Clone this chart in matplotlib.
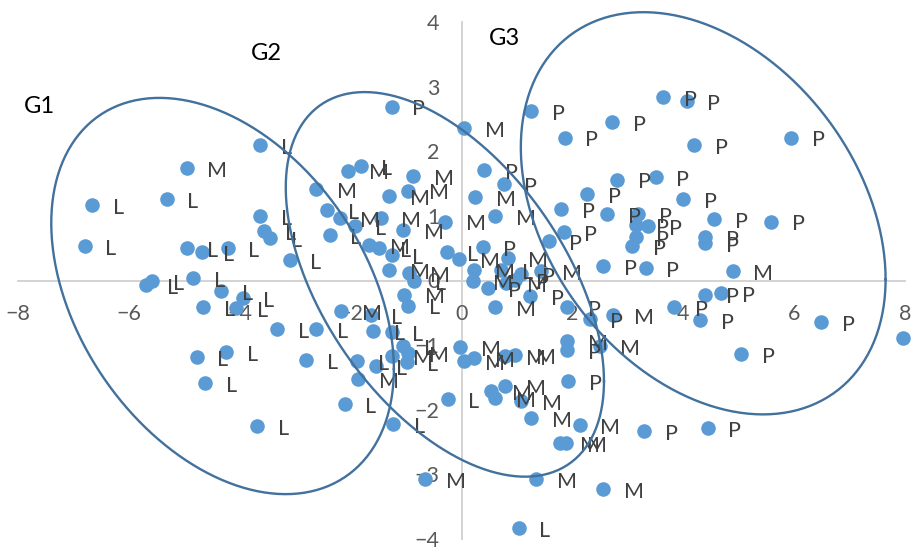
import numpy as np
import matplotlib.pyplot as plt

plt.rcParams['font.family'] = ['Lato', 'DejaVu Sans']

# points labelled L
l_x = [-6.66, -5.32, -6.80, -4.96, -4.68, -4.22, -3.63, -3.63, -3.56, -3.45, -3.10,
       -5.69, -5.58, -4.84, -4.33, -4.66, -3.95, -4.06, -3.32, -2.62, -4.78, -4.24,
       -4.62, -2.80, -3.68, -2.11, -1.82, -2.42, -2.38, -1.93, -1.48, -1.26, -0.85,
       -0.96, -0.27, -1.64, -1.59, -1.26, -1.06, -0.99, -1.88, -1.55, -1.23, -0.25,
       0.72, 1.03]
l_y = [1.17, 1.26, 0.53, 0.50, 0.44, 0.50, 2.10, 1.00, 0.77, 0.66, 0.32,
       -0.07, -0.01, 0.04, -0.16, -0.41, -0.27, -0.43, -0.75, -0.75, -1.18, -1.11,
       -1.59, -1.23, -2.25, -1.91, 1.77, 1.09, 0.70, 0.84, 0.50, 0.39, -0.01,
       -0.39, 0.44, -0.53, -0.78, -0.80, -1.01, -1.26, -1.25, -1.32, -2.22, -1.83,
       0.16, -3.83]

# points labelled M
m_x = [-4.96, 0.05, -2.04, -0.88, -0.97, -1.30, -2.62, -2.20, -1.46, -1.05, -0.29,
       -1.66, -1.30, -0.94, -1.03, -0.05, -2.17, -1.25, -0.96, -1.86, -0.65, -0.02,
       0.05, 0.23, 0.25, 0.60, 0.83, 0.23, 1.44, 0.20, 0.81, 0.60, 2.73, 0.78,
       0.96, 1.90, 2.49, 0.54, 0.60, 0.78, 1.08, 1.26, 2.13, 1.77, 1.88, 1.35,
       2.55, 4.89]
m_y = [1.74, 2.36, 1.70, 1.62, 1.39, 1.31, 1.42, 0.97, 0.97, 0.78, 0.91,
       0.55, 0.16, 0.12, -0.22, 0.33, -0.47, -1.17, -1.12, -1.52, -3.07, -1.03,
       -1.25, -1.20, 1.29, 1.00, 0.35, 0.16, 0.15, -0.01, -0.04, -0.41, -0.53, -1.17,
       -1.15, -0.94, -1.01, -1.71, -1.82, -1.63, -1.87, -2.13, -2.24, -2.52, -2.52, -3.07,
       -3.23, 0.15]

# points labelled P
p_x = [-1.26, 0.40, 0.76, 0.38, 1.08, 0.47, 0.96, 1.23, 1.91, 2.31, 1.90,
       1.93, 3.30, 4.44, 5.05, 6.48, 7.96, 4.39, 4.68, 4.31, 3.84, 1.26,
       1.86, 2.71, 3.63, 4.06, 4.19, 5.94, 2.26, 2.80, 3.50, 3.99, 1.79,
       2.62, 3.19, 3.14, 3.36, 4.55, 5.58, 3.14, 3.07, 4.39, 4.40, 1.84,
       1.57, 2.55, 3.32]
p_y = [2.69, 1.71, 1.49, 0.52, 0.10, -0.12, 0.01, -0.24, -0.41, -0.60, -1.08,
       -1.56, -2.33, -2.28, -1.14, -0.64, -0.89, -0.22, -0.19, -0.61, -0.41, 2.62,
       2.21, 2.45, 2.84, 2.78, 2.10, 2.21, 1.34, 1.56, 1.60, 1.26, 1.11,
       1.03, 1.03, 0.86, 0.84, 0.95, 0.91, 0.67, 0.53, 0.67, 0.58, 0.75,
       0.61, 0.22, 0.19]

# group outlines: centre and two conjugate half-axes
groups = ['G1', 'G2', 'G3']
group_center = [(-4.31, -0.24), (-0.30, -0.06), (4.36, 1.04)]
group_u = [(3.09, -1.13), (2.87, -1.50), (3.29, -1.02)]
group_v = [(0.0, 2.85), (0.0, 2.57), (0.0, 2.94)]
group_text = [(-7.62, 2.70), (-3.52, 3.52), (0.78, 3.75)]

marker_color = '#5B9BD5'
label_color = '#404040'
outline_color = '#41719C'


def ellipse_xy(c, u, v, n=300):
    t = np.linspace(0, 2 * np.pi, n)
    x = c[0] + np.cos(t) * u[0] + np.sin(t) * v[0]
    y = c[1] + np.cos(t) * u[1] + np.sin(t) * v[1]
    return x, y


fig = plt.figure(figsize=(9.24, 5.47), dpi=100)
ax = fig.add_axes([18 / 924, 1 - 539 / 547, 887 / 924, 517 / 547])

for xs, ys, lab in [(l_x, l_y, 'L'), (m_x, m_y, 'M'), (p_x, p_y, 'P')]:
    ax.scatter(xs, ys, s=110, color=marker_color, linewidths=0, zorder=3, clip_on=False)
    for x, y in zip(xs, ys):
        ax.annotate(lab, (x, y), xytext=(15, -2), textcoords='offset points',
                    ha='left', va='center', fontsize=15.5, color=label_color,
                    zorder=4, annotation_clip=False)

for name, c, u, v, t in zip(groups, group_center, group_u, group_v, group_text):
    ex, ey = ellipse_xy(c, u, v)
    ax.plot(ex, ey, color=outline_color, lw=1.7, zorder=5, clip_on=False)
    ax.text(t[0], t[1], name, fontsize=17, color='black', ha='center', va='center')

ax.set_xlim(-8, 8)
ax.set_ylim(-4, 4)
ax.set_xticks(np.arange(-8, 9, 2))
ax.set_yticks(np.arange(-4, 5, 1))

ax.spines['left'].set_position(('data', 0))
ax.spines['bottom'].set_position(('data', 0))
ax.spines['top'].set_visible(False)
ax.spines['right'].set_visible(False)
for s in ['left', 'bottom']:
    ax.spines[s].set_color('#D0D0D0')
    ax.spines[s].set_linewidth(1.3)
    ax.spines[s].set_zorder(1)

ax.tick_params(axis='both', length=0, labelsize=15.5, labelcolor='#595959')
ax.tick_params(axis='x', pad=17)
ax.tick_params(axis='y', pad=16)
ax.patch.set_alpha(0)

fig.savefig('out.png', dpi=100)
